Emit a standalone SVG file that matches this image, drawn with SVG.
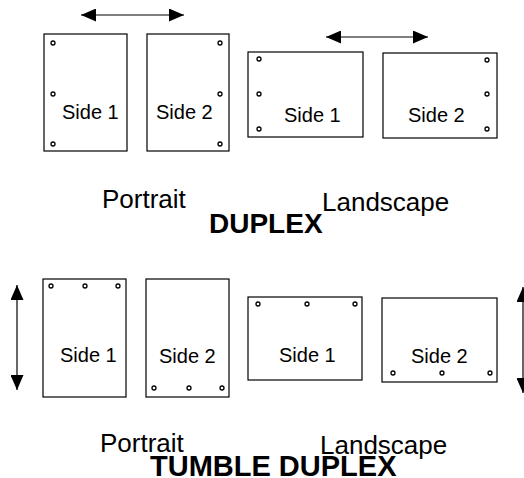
<svg xmlns="http://www.w3.org/2000/svg" width="524" height="478" viewBox="0 0 524 478">
<defs>
<style>
.page{fill:#fff;stroke:#000;stroke-width:1.2}
.hole{fill:#fff;stroke:#000;stroke-width:1.3}
.side{font-family:"Liberation Sans",Arial,sans-serif;font-size:20px;fill:#000}
.lbl{font-family:"Liberation Sans",Arial,sans-serif;font-size:26px;fill:#000}
.ttl{font-family:"Liberation Sans",Arial,sans-serif;font-size:28px;font-weight:bold;fill:#000}
.arr{stroke:#000;stroke-width:1.2;fill:none;marker-start:url(#ah);marker-end:url(#ah)}
</style>
<marker id="ah" markerUnits="userSpaceOnUse" markerWidth="15" markerHeight="13" refX="15" refY="6.5" orient="auto-start-reverse" viewBox="0 0 15 13">
<path d="M0,0 L15,6.5 L0,13 z" fill="#000"/>
</marker>
</defs>
<rect width="524" height="478" fill="#fff"/>

<g id="connectors">
<line class="arr" x1="81" y1="15" x2="184" y2="15"/>
<line class="arr" x1="326" y1="37" x2="428" y2="37"/>
<line class="arr" x1="17" y1="285" x2="17" y2="390"/>
<line class="arr" x1="523" y1="287" x2="523" y2="393"/>
</g>

<g id="dp-portrait-side1">
<rect class="page" x="44" y="34" width="83" height="117"/>
<circle class="hole" cx="53" cy="43" r="2"/>
<circle class="hole" cx="53" cy="94" r="2"/>
<circle class="hole" cx="53" cy="144" r="2"/>
<text class="side" x="62" y="119">Side 1</text>
</g>
<g id="dp-portrait-side2">
<rect class="page" x="147" y="34" width="82" height="117"/>
<circle class="hole" cx="220" cy="43" r="2"/>
<circle class="hole" cx="220" cy="94" r="2"/>
<circle class="hole" cx="220" cy="144" r="2"/>
<text class="side" x="156" y="119">Side 2</text>
</g>
<g id="dp-landscape-side1">
<rect class="page" x="248" y="52" width="115" height="85"/>
<circle class="hole" cx="259" cy="59" r="2"/>
<circle class="hole" cx="259" cy="94" r="2"/>
<circle class="hole" cx="259" cy="129" r="2"/>
<text class="side" x="284" y="122">Side 1</text>
</g>
<g id="dp-landscape-side2">
<rect class="page" x="383" y="53" width="114" height="85"/>
<circle class="hole" cx="487" cy="60" r="2"/>
<circle class="hole" cx="487" cy="94" r="2"/>
<circle class="hole" cx="487" cy="129" r="2"/>
<text class="side" x="408" y="122">Side 2</text>
</g>

<g id="dp-labels">
<text class="lbl" x="102" y="208">Portrait</text>
<text class="lbl" x="322" y="211">Landscape</text>
<text class="ttl" x="209" y="233">DUPLEX</text>
</g>

<g id="td-portrait-side1">
<rect class="page" x="43" y="279" width="83" height="118"/>
<circle class="hole" cx="51" cy="286" r="2"/>
<circle class="hole" cx="85" cy="286" r="2"/>
<circle class="hole" cx="118" cy="286" r="2"/>
<text class="side" x="60" y="362">Side 1</text>
</g>
<g id="td-portrait-side2">
<rect class="page" x="146" y="279" width="83" height="118"/>
<circle class="hole" cx="154" cy="388" r="2"/>
<circle class="hole" cx="189" cy="388" r="2"/>
<circle class="hole" cx="222" cy="388" r="2"/>
<text class="side" x="159" y="363">Side 2</text>
</g>
<g id="td-landscape-side1">
<rect class="page" x="248" y="297" width="114" height="83"/>
<circle class="hole" cx="258" cy="304" r="2"/>
<circle class="hole" cx="307" cy="304" r="2"/>
<circle class="hole" cx="355" cy="304" r="2"/>
<text class="side" x="279" y="362">Side 1</text>
</g>
<g id="td-landscape-side2">
<rect class="page" x="382" y="298" width="115" height="84"/>
<circle class="hole" cx="393" cy="373" r="2"/>
<circle class="hole" cx="442" cy="373" r="2"/>
<circle class="hole" cx="490" cy="373" r="2"/>
<text class="side" x="411" y="363">Side 2</text>
</g>

<g id="td-labels">
<text class="lbl" x="100" y="452">Portrait</text>
<text class="lbl" x="320" y="454">Landscape</text>
<text class="ttl" x="150" y="476" style="font-size:29px">TUMBLE DUPLEX</text>
</g>
</svg>
